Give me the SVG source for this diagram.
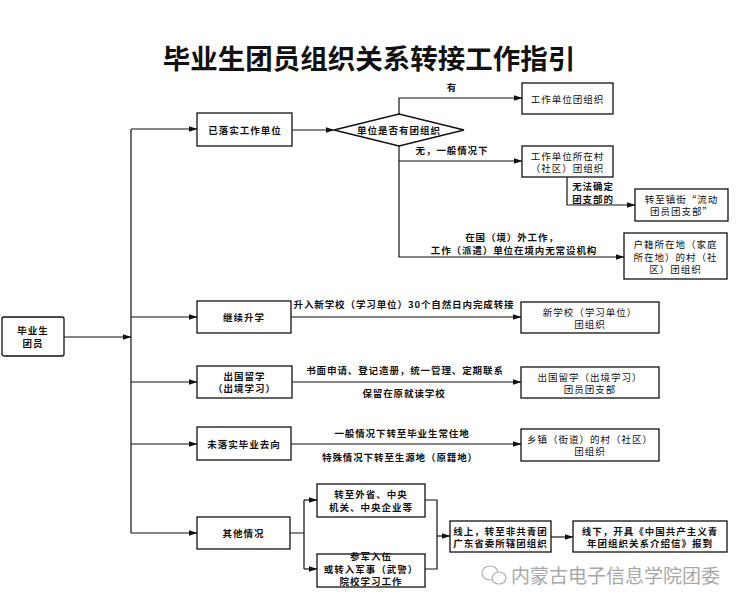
<svg xmlns="http://www.w3.org/2000/svg" width="738" height="607" viewBox="0 0 738 607">
<defs>
<marker id="arr" markerWidth="9" markerHeight="7" refX="8.5" refY="3.5" orient="auto" markerUnits="userSpaceOnUse">
<path d="M0,0.5 L9,3.5 L0,6.5 Z" fill="#111"/>
</marker>
<style>
text{font-family:"Noto Sans CJK SC","Noto Sans",sans-serif;fill:#111;text-anchor:middle;dominant-baseline:central}
.box{fill:#fff;stroke:#111;stroke-width:1.3}
.t{font-size:9.5px;letter-spacing:1px}
.b{font-size:9.5px;font-weight:bold;letter-spacing:1px}
.lbl{font-size:9.5px;font-weight:bold;letter-spacing:0.9px}
.ln{fill:none;stroke:#111;stroke-width:1.2}
.ar{marker-end:url(#arr)}
.title{font-size:27.5px;font-weight:bold}
.wm{font-size:19px;fill:#a8a8a8;text-anchor:start}
</style>
</defs>
<rect width="738" height="607" fill="#fff"/>
<text class="title" x="369" y="57">毕业生团员组织关系转接工作指引</text>

<g id="connectors">
<path class="ln ar" d="M64,337 H131"/>
<path class="ln" d="M131,129 V533"/>
<path class="ln ar" d="M131,129 H197"/>
<path class="ln ar" d="M292,130 H334"/>
<path class="ln ar" d="M399,114 V98 H522"/>
<path class="ln ar" d="M399,146 V257 H624"/>
<path class="ln ar" d="M399,161 H522"/>
<path class="ln ar" d="M567,177 V205 H635"/>
<path class="ln ar" d="M131,317 H197"/>
<path class="ln ar" d="M291,317 H521"/>
<path class="ln ar" d="M131,382 H197"/>
<path class="ln ar" d="M292,382 H521"/>
<path class="ln ar" d="M131,444 H197"/>
<path class="ln ar" d="M291,444 H521"/>
<path class="ln ar" d="M131,533 H197"/>
<path class="ln" d="M290,533 H304 M304,500 V569"/>
<path class="ln ar" d="M304,500 H317"/>
<path class="ln ar" d="M304,569 H317"/>
<path class="ln" d="M425,500 H437 V569 H425"/>
<path class="ln ar" d="M437,536 H450"/>
<path class="ln ar" d="M551,537 H573"/>
<text class="lbl" x="452" y="87">有</text>
<text class="lbl" x="452" y="150">无，一般情况下</text>
<text class="lbl" x="593" y="186">无法确定</text>
<text class="lbl" x="593" y="199">团支部的</text>
<text class="lbl" x="512" y="236.5">在国（境）外工作，</text>
<text class="lbl" x="514" y="250">工作（派遣）单位在境内无常设机构</text>
<text class="lbl" x="404" y="304">升入新学校（学习单位）30个自然日内完成转接</text>
<text class="lbl" x="405" y="370">书面申请、登记造册，统一管理、定期联系</text>
<text class="lbl" x="404" y="393">保留在原就读学校</text>
<text class="lbl" x="402" y="433">一般情况下转至毕业生常住地</text>
<text class="lbl" x="400" y="457">特殊情况下转至生源地（原籍地）</text>
</g>

<g id="n_grad"><rect class="box" x="2" y="317" width="62" height="39" rx="2"/><text class="b" x="33" y="330">毕业生</text><text class="b" x="33" y="343">团员</text></g>
<g id="n_work"><rect class="box" x="197" y="113" width="95" height="33"/><text class="b" x="245" y="130">已落实工作单位</text></g>
<g id="n_dia"><polygon class="box" points="334,130 399,114 464,130 399,146"/><text class="b" x="399" y="130">单位是否有团组织</text></g>
<g id="n_org1"><rect class="box" x="522" y="83" width="91" height="31"/><text class="t" x="567.5" y="98.5">工作单位团组织</text></g>
<g id="n_org2"><rect class="box" x="522" y="146" width="91" height="31"/><text class="t" x="567.5" y="155.5">工作单位所在村</text><text class="t" x="567.5" y="168">（社区）团组织</text></g>
<g id="n_flow"><rect class="box" x="635" y="189" width="93" height="32"/><text class="t" x="681.5" y="198.5">转至镇街“流动</text><text class="t" x="681.5" y="211">团员团支部”</text></g>
<g id="n_hukou"><rect class="box" x="624" y="233" width="103" height="46"/><text class="t" x="675.5" y="244">户籍所在地（家庭</text><text class="t" x="675.5" y="256.5">所在地）的村（社</text><text class="t" x="675.5" y="269">区）团组织</text></g>
<g id="n_study"><rect class="box" x="197" y="301" width="94" height="32"/><text class="b" x="244" y="317">继续升学</text></g>
<g id="n_newschool"><rect class="box" x="521" y="302" width="138" height="31"/><text class="t" x="590" y="311.5">新学校（学习单位）</text><text class="t" x="590" y="324">团组织</text></g>
<g id="n_abroad"><rect class="box" x="197" y="366" width="95" height="32"/><text class="b" x="244.5" y="375.5">出国留学</text><text class="b" x="244.5" y="388">（出境学习）</text></g>
<g id="n_abroad_org"><rect class="box" x="521" y="367" width="138" height="31"/><text class="t" x="590" y="376.5">出国留学（出境学习）</text><text class="t" x="590" y="389">团员团支部</text></g>
<g id="n_unsettled"><rect class="box" x="197" y="427" width="94" height="33"/><text class="b" x="244" y="444">未落实毕业去向</text></g>
<g id="n_town"><rect class="box" x="521" y="429" width="138" height="32"/><text class="t" x="590" y="438.5">乡镇（街道）的村（社区）</text><text class="t" x="590" y="451">团组织</text></g>
<g id="n_other"><rect class="box" x="197" y="517" width="93" height="32"/><text class="b" x="243.5" y="533">其他情况</text></g>
<g id="n_prov"><rect class="box" x="317" y="484" width="108" height="33"/><text class="b" x="371" y="494">转至外省、中央</text><text class="b" x="371" y="506.5">机关、中央企业等</text></g>
<g id="n_army"><rect class="box" x="317" y="554" width="108" height="33"/><text class="b" x="371" y="556">参军入伍</text><text class="b" x="371" y="568.5">或转入军事（武警）</text><text class="b" x="371" y="581">院校学习工作</text></g>
<g id="n_online"><rect class="box" x="450" y="521" width="101" height="31"/><text class="b" x="500.5" y="530.5">线上，转至非共青团</text><text class="b" x="500.5" y="543">广东省委所辖团组织</text></g>
<g id="n_offline"><rect class="box" x="573" y="521" width="154" height="31"/><text class="b" x="650" y="530.5">线下，开具《中国共产主义青</text><text class="b" x="650" y="543">年团组织关系介绍信》报到</text></g>

<g id="watermark">
<ellipse cx="490" cy="573" rx="8" ry="7" fill="none" stroke="#b0b0b0" stroke-width="1.2"/>
<ellipse cx="499" cy="578" rx="7" ry="6" fill="#fff" stroke="#b0b0b0" stroke-width="1.2"/>
<text class="wm" x="511" y="574">内蒙古电子信息学院团委</text>
</g>
</svg>
